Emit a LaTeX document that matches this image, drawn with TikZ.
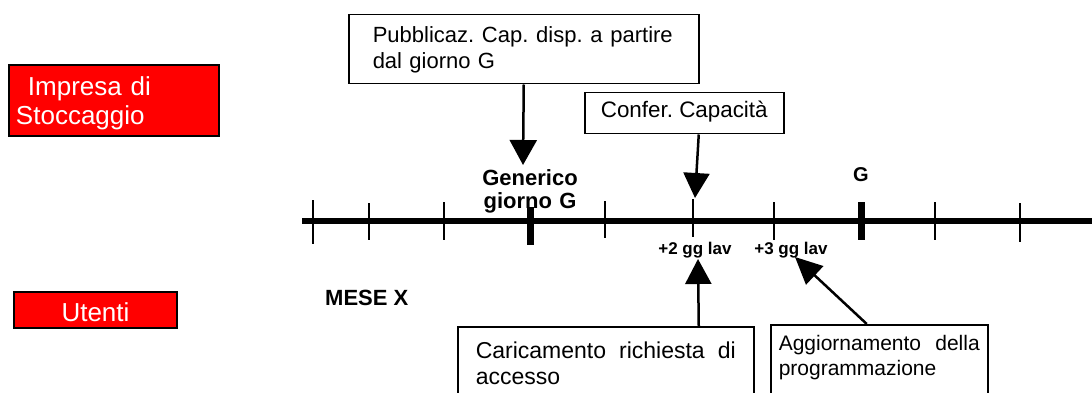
\documentclass[tikz,border=0pt]{standalone}
\usepackage{fontspec}
\setmainfont{Liberation Sans}
\usetikzlibrary{arrows.meta}
\AtBeginDocument{\frenchspacing}
\begin{document}
\begin{tikzpicture}[x=1pt,y=-1pt,
  box/.style={draw=black, line width=1.5pt, anchor=north west, inner sep=0pt, align=left,
    font=\fontsize{23}{25.8}\selectfont},
  redbox/.style={draw=black, fill=red, text=white, line width=2pt, anchor=north west, inner sep=0pt,
    font=\fontsize{26}{28.5}\selectfont},
  lbl/.style={font=\fontsize{22}{24}\selectfont\bfseries, inner sep=0pt},
  smalllbl/.style={font=\fontsize{17}{19}\selectfont\bfseries, inner sep=0pt, anchor=base},
  arr/.style={line width=2.5pt, -{Triangle[width=26pt,length=25pt]}},
  tickmark/.style={line width=2pt},
  bigtickmark/.style={line width=7pt},
]
\useasboundingbox (0,0) rectangle (1092,393);

% red boxes
\node[redbox, minimum width=210pt, text width=196pt, text height=31pt, text depth=40pt, align=left]
  (impresa) at (8,64) {\hspace*{12pt}Impresa di\\Stoccaggio};
\node[redbox, minimum width=163pt, text height=29pt, text depth=7pt]
  (utenti) at (13,291) {Utenti};

% timeline
\coordinate (tlstart) at (302,221);
\coordinate (tlend) at (1092,221);
\draw[line width=6pt] (tlstart) -- (tlend);
\draw[tickmark] (313,200) -- (313,244);
\draw[tickmark] (369,203) -- (369,240);
\draw[tickmark] (444,202) -- (444,240);
\draw[tickmark] (605,201) -- (605,238);
\draw[tickmark] (693,199) -- (693,237);
\draw[tickmark] (774,202) -- (774,240);
\draw[tickmark] (935,202) -- (935,240);
\draw[tickmark] (1020,203) -- (1020,242);
\draw[bigtickmark] (530,207) -- (530,245);
\draw[bigtickmark] (861,202) -- (861,240);

% labels
\node[lbl, text width=130pt, align=center, anchor=base] (generico) at (530,185) {Generico\\giorno G};
\node[lbl, font=\fontsize{20}{22}\selectfont\bfseries, anchor=base] (g) at (861,181) {G};
\node[lbl, anchor=base west] (mese) at (325,305) {MESE X};
\node[smalllbl] (due) at (695,254) {+2 gg lav};
\node[smalllbl] (tre) at (791,254) {+3 gg lav};

% boxes
\node[box, font=\fontsize{22}{25.5}\selectfont, minimum width=350pt, text width=302pt, text height=28pt, text depth=41pt]
  (pub) at (348,14) {\hbox to 300pt{Pubblicaz. \hfill Cap. \hfill disp. \hfill a \hfill partire}\\dal giorno G};
\node[box, font=\fontsize{22.4}{25.8}\selectfont, minimum width=199pt, text height=25pt, text depth=16pt, align=center]
  (conf) at (584,92) {Confer. Capacità};
\node[box, minimum width=296pt, text width=260pt, text height=32pt, text depth=68pt]
  (car) at (457,326) {\hbox to 260pt{Caricamento \hfill richiesta \hfill di}\\accesso};
\node[box, font=\fontsize{21}{25}\selectfont, minimum width=217pt, text width=201pt, text height=26pt, text depth=80pt]
  (agg) at (770,324) {\hbox to 201pt{Aggiornamento \hfill della}\\programmazione};

% arrows
\coordinate (pubtip) at (523,165);
\coordinate (conftip) at (695,198);
\coordinate (cartip) at (698,259);
\coordinate (aggtip) at (795,257);
\draw[arr, -{Triangle[width=27pt,length=25pt]}] (pub.south) -- (pubtip);
\draw[arr] ([xshift=14.5pt]conf.south) -- (conftip);
\draw[arr] ([xshift=93pt]car.north) -- (cartip);
\draw[arr, -{Triangle[width=25pt,length=27pt]}] ([xshift=-12.5pt]agg.north) -- (aggtip);
\end{tikzpicture}
\end{document}
